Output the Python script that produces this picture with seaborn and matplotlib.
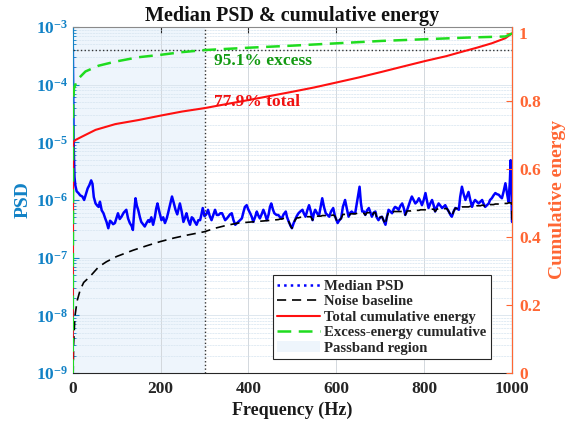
import numpy as np
import matplotlib
matplotlib.use("Agg")
import matplotlib.pyplot as plt
import seaborn as sns
from matplotlib.lines import Line2D
from matplotlib.patches import Patch
from matplotlib.ticker import LogLocator, FixedLocator, FuncFormatter, NullFormatter

# ---------------- data ----------------
freq_psd = [0, 2, 4, 6, 9, 13, 17, 22, 26, 30, 34, 38, 42, 45, 48, 52, 56, 59, 62, 66,
            70, 74, 77, 81, 85, 88, 92, 96, 100, 103, 107, 111, 116, 122, 126, 130, 134, 137, 140, 143,
            146, 149, 153, 156, 160, 164, 168, 172, 175, 179, 183, 187, 190, 193, 197, 202, 206, 210, 214, 217,
            221, 226, 230, 234, 238, 244, 248, 252, 256, 259, 263, 267, 271, 274, 278, 282, 286, 290, 293, 296,
            300, 304, 308, 312, 316, 320, 324, 328, 332, 336, 340, 344, 347, 351, 354, 358, 362, 366, 370, 374,
            377, 381, 385, 389, 392, 396, 400, 404, 408, 411, 415, 419, 422, 426, 430, 434, 438, 442, 446, 449,
            452, 456, 459, 464, 468, 472, 476, 480, 485, 488, 492, 496, 499, 503, 506, 510, 514, 518, 523, 526,
            530, 534, 538, 542, 546, 549, 552, 557, 561, 565, 568, 572, 576, 580, 584, 588, 593, 597, 603, 607,
            611, 615, 620, 624, 628, 632, 635, 639, 643, 648, 653, 656, 659, 663, 666, 670, 674, 677, 681, 685,
            689, 692, 696, 700, 704, 708, 712, 715, 719, 723, 727, 731, 734, 738, 742, 746, 750, 754, 757, 761,
            765, 769, 772, 776, 780, 784, 788, 792, 795, 799, 803, 806, 810, 814, 818, 822, 825, 829, 833, 837,
            841, 844, 848, 852, 856, 860, 863, 867, 871, 875, 879, 882, 886, 890, 894, 898, 901, 905, 909, 912,
            916, 920, 924, 928, 932, 935, 939, 943, 947, 950, 954, 958, 962, 966, 970, 973, 977, 981, 985, 989,
            992, 995, 997, 999, 1000]
log_psd = [-3.20, -5.00, -5.60, -5.75, -5.85, -5.88, -5.92, -5.94, -6.00, -5.90, -5.80, -5.74, -5.66, -5.72, -5.95, -6.06, -6.10, -6.12, -6.03, -6.18,
           -6.23, -6.32, -6.38, -6.49, -6.36, -6.38, -6.42, -6.40, -6.30, -6.23, -6.33, -6.29, -6.22, -6.17, -6.32, -6.40, -6.45, -6.52, -6.20, -5.97,
           -6.10, -6.17, -6.30, -6.38, -6.42, -6.46, -6.40, -6.35, -6.38, -6.30, -6.43, -6.30, -6.15, -6.06, -6.20, -6.35, -6.30, -6.40, -6.32, -6.23,
           -6.10, -5.94, -6.05, -6.17, -6.25, -6.06, -6.20, -6.38, -6.30, -6.23, -6.35, -6.43, -6.30, -6.32, -6.38, -6.43, -6.35, -6.35, -6.25, -6.14,
           -6.28, -6.25, -6.17, -6.28, -6.35, -6.26, -6.17, -6.26, -6.26, -6.23, -6.23, -6.30, -6.35, -6.32, -6.29, -6.25, -6.23, -6.35, -6.43, -6.40,
           -6.38, -6.35, -6.32, -6.20, -6.12, -6.09, -6.17, -6.23, -6.30, -6.38, -6.30, -6.20, -6.26, -6.32, -6.25, -6.17, -6.25, -6.35, -6.25, -6.12,
           -6.06, -6.17, -6.23, -6.26, -6.26, -6.30, -6.32, -6.25, -6.20, -6.30, -6.38, -6.45, -6.49, -6.40, -6.35, -6.28, -6.23, -6.20, -6.17, -6.23,
           -6.29, -6.18, -6.09, -6.20, -6.35, -6.23, -6.17, -6.24, -6.26, -6.10, -5.97, -6.12, -6.23, -6.26, -6.29, -6.20, -6.14, -6.28, -6.40, -6.35,
           -6.32, -6.12, -6.00, -6.15, -6.29, -6.22, -6.20, -6.23, -6.23, -6.00, -5.77, -6.05, -6.20, -6.20, -6.26, -6.18, -6.14, -6.20, -6.29, -6.22,
           -6.20, -6.30, -6.35, -6.30, -6.29, -6.36, -6.43, -6.30, -6.17, -6.20, -6.23, -6.15, -6.12, -6.14, -6.17, -6.10, -6.06, -6.15, -6.26, -6.18,
           -6.09, -6.00, -5.94, -6.00, -6.06, -6.03, -5.97, -6.03, -6.09, -6.00, -5.88, -6.00, -6.14, -6.06, -6.00, -6.10, -6.20, -6.12, -6.06, -6.10,
           -6.14, -6.12, -6.09, -6.15, -6.20, -6.26, -6.29, -6.20, -6.14, -6.15, -6.17, -5.95, -5.77, -5.90, -6.00, -5.92, -5.86, -6.00, -6.12, -6.05,
           -6.00, -6.03, -6.06, -6.03, -6.00, -6.06, -6.12, -6.09, -6.06, -6.00, -5.97, -5.92, -5.88, -5.90, -5.91, -5.94, -5.97, -5.85, -5.71, -5.90,
           -6.03, -5.70, -5.31, -5.90, -6.38]

freq_noise = [0.5, 2, 5, 10, 17, 25, 39, 59, 77, 100, 138, 170, 200, 230, 260, 300, 324, 350, 377, 410,
              440, 468,
              472, 476, 480, 485, 488, 492, 496, 499, 503, 506, 510, 514, 518, 523, 526,
              530, 534, 538, 542, 546, 549, 552, 557, 561, 565, 568, 572, 576, 580, 584, 588, 593, 597, 603, 607,
              611, 615, 620, 624, 628, 632, 635, 639, 643, 648, 653, 656, 659, 663, 666, 670, 674, 677, 681, 685,
              689, 692, 696, 700, 704, 708, 712, 715, 719, 723, 727, 731, 734, 738, 742, 746, 750, 754, 757, 761,
              765, 769, 772, 776, 780, 784, 788, 792, 795, 799, 803, 806, 810, 814, 818, 822, 825, 829, 833, 837,
              841, 844, 848, 852, 856, 860, 863, 867, 871, 875, 879, 882, 886, 890, 894, 898, 901, 905, 909, 912,
              916, 920, 924, 928, 932, 935, 939, 943, 947, 950, 954, 958, 962, 966, 970, 973, 977, 981, 985, 989,
              992, 995, 997, 999, 1000]
log_noise = [-9.3, -8.5, -8.02, -7.75, -7.56, -7.43, -7.33, -7.16, -7.07, -6.98, -6.87, -6.79, -6.72, -6.66, -6.61, -6.55, -6.49, -6.44, -6.40, -6.38,
             -6.36, -6.34,
             -6.33, -6.33, -6.32, -6.32, -6.32, -6.38, -6.45, -6.49, -6.40, -6.35, -6.31, -6.31, -6.30, -6.30, -6.30,
             -6.30, -6.29, -6.29, -6.29, -6.35, -6.28, -6.28, -6.28, -6.28, -6.28, -6.27, -6.27, -6.27, -6.27, -6.29, -6.27, -6.26, -6.28, -6.40, -6.35,
             -6.32, -6.25, -6.25, -6.25, -6.29, -6.24, -6.24, -6.24, -6.24, -6.23, -6.23, -6.23, -6.23, -6.23, -6.26, -6.22, -6.22, -6.22, -6.29, -6.22,
             -6.22, -6.30, -6.35, -6.30, -6.29, -6.36, -6.43, -6.30, -6.21, -6.21, -6.23, -6.20, -6.20, -6.20, -6.20, -6.20, -6.20, -6.19, -6.26, -6.19,
             -6.19, -6.19, -6.18, -6.18, -6.18, -6.18, -6.18, -6.17, -6.17, -6.17, -6.17, -6.17, -6.17, -6.16, -6.16, -6.16, -6.20, -6.16, -6.15, -6.15,
             -6.15, -6.15, -6.15, -6.15, -6.20, -6.26, -6.29, -6.20, -6.14, -6.15, -6.17, -6.13, -6.12, -6.12, -6.12, -6.12, -6.12, -6.11, -6.12, -6.11,
             -6.11, -6.10, -6.10, -6.10, -6.09, -6.09, -6.12, -6.09, -6.09, -6.08, -6.08, -6.08, -6.07, -6.07, -6.07, -6.07, -6.06, -6.06, -6.06, -6.06,
             -6.05, -6.05, -6.05, -6.05, -6.38]

freq_total = [0, 1, 6, 21, 52, 97, 150, 200, 249, 300, 350, 401, 450, 499, 550, 602, 650, 704, 750, 803,
              850, 886, 920, 954, 985, 1000]
cum_total = [0.0, 0.680, 0.686, 0.696, 0.716, 0.733, 0.745, 0.758, 0.770, 0.780, 0.792, 0.804, 0.816, 0.828, 0.841, 0.856, 0.870, 0.887, 0.902, 0.919,
             0.933, 0.946, 0.958, 0.971, 0.986, 1.0]

freq_excess = [0, 1, 3, 10, 29, 59, 97, 150, 200, 249, 300, 401, 499, 602, 704, 803, 902, 985, 1000]
cum_excess = [0.0, 0.800, 0.839, 0.863, 0.888, 0.905, 0.917, 0.930, 0.937, 0.945, 0.951, 0.958, 0.964, 0.971, 0.978, 0.983, 0.988, 0.991, 1.0]

passband = [0, 300]
excess_at_edge = 0.951
total_at_edge = 0.779
title = "Median PSD & cumulative energy"
legend_labels = ["Median PSD", "Noise baseline", "Total cumulative energy",
                 "Excess-energy cumulative", "Passband region"]

# ---------------- style ----------------
sns.set_style("white")
plt.rcParams["font.family"] = ["Liberation Serif", "DejaVu Serif"]
plt.rcParams["font.weight"] = "bold"
plt.rcParams["axes.labelweight"] = "bold"
plt.rcParams["axes.titleweight"] = "bold"
plt.rcParams["mathtext.fontset"] = "custom"
plt.rcParams["mathtext.rm"] = "Liberation Serif:bold"
plt.rcParams["mathtext.bf"] = "Liberation Serif:bold"
plt.rcParams["axes.unicode_minus"] = False

LEFT_C = "#1282c6"
RIGHT_C = "#ff6633"
SHADE_C = "#eef5fc"
BLACK_DASH = (0, (5.5, 3.5))
GREEN_DASH = (0, (5.5, 3.0))

fig = plt.figure(figsize=(5.65, 4.25), dpi=100)
ax = fig.add_axes([0.1287, 0.1224, 0.9062 - 0.1287, 0.9365 - 0.1224])
ax.set_yscale("log")

ax.axvspan(passband[0], passband[1], color=SHADE_C, zorder=0.1, lw=0)

psd = 10.0 ** np.array(log_psd)
noise = 10.0 ** np.array(log_noise)

sns.lineplot(x=freq_noise, y=noise, ax=ax, color="black", lw=1.2,
             linestyle=BLACK_DASH, estimator=None, sort=False, zorder=3)
sns.lineplot(x=freq_psd, y=psd, ax=ax, color="#0000ff", lw=1.8,
             estimator=None, sort=False, zorder=2)

ax.set_xlim(0, 1000)
ax.set_ylim(1e-9, 1e-3)
ax.set_xticks([0, 200, 400, 600, 800, 1000])
ax.yaxis.set_major_locator(LogLocator(base=10, numticks=10))
ax.yaxis.set_minor_locator(LogLocator(base=10, subs=np.arange(2, 10), numticks=100))
ax.yaxis.set_minor_formatter(NullFormatter())

ax.set_axisbelow(True)
ax.grid(which="major", axis="x", color="#d3d8dd", lw=0.7)
ax.grid(which="major", axis="y", color="#d8e3ec", lw=0.6)
ax.grid(which="minor", axis="y", color="#d6e4f0", lw=0.5, ls=(0, (3, 1)))

ax.axvline(passband[1], color="#333333", lw=1.0, ls=":", zorder=4)

ax.tick_params(axis="x", which="both", direction="in", top=True, length=4,
               labelsize=12.5, colors="#262626", pad=6)
ax.tick_params(axis="y", which="major", direction="in", length=4, labelsize=12.5,
               colors=LEFT_C, pad=3)
ax.tick_params(axis="y", which="minor", direction="in", length=2, colors=LEFT_C)
ax.set_xlabel("Frequency (Hz)", fontsize=13, color="#1a1a1a", labelpad=3)
ax.set_ylabel("PSD", fontsize=14, color=LEFT_C, labelpad=3)
ax.set_title(title, fontsize=14.5, color="#111111", pad=4)

ax.spines["top"].set_color("#8a8a8a")
ax.spines["bottom"].set_color("#262626")
ax.spines["left"].set_color(LEFT_C)
for s in ax.spines.values():
    s.set_linewidth(0.8)

# ---------------- right axis ----------------
ax2 = ax.twinx()
sns.lineplot(x=freq_total, y=cum_total, ax=ax2, color="#ff1010", lw=1.5,
             estimator=None, sort=False, zorder=3)
sns.lineplot(x=freq_excess, y=cum_excess, ax=ax2, color="#1fdc1f", lw=1.8,
             linestyle=GREEN_DASH, estimator=None, sort=False, zorder=3)
ax2.axhline(excess_at_edge, color="#333333", lw=1.0, ls=":", zorder=2)
ax2.set_ylim(0, 1.019)
ax2.set_xlim(0, 1000)
ax2.yaxis.set_major_locator(FixedLocator([0, 0.2, 0.4, 0.6, 0.8, 1.0]))
ax2.yaxis.set_major_formatter(FuncFormatter(lambda v, p: "%g" % round(v, 2)))
ax2.tick_params(axis="y", direction="in", length=4, labelsize=12.5, colors=RIGHT_C, pad=5)
ax2.set_ylabel("Cumulative energy", fontsize=14, color=RIGHT_C, labelpad=6)
ax2.spines["right"].set_color(RIGHT_C)
ax2.spines["left"].set_visible(False)
ax2.spines["top"].set_visible(False)
ax2.spines["bottom"].set_visible(False)
ax2.grid(False)

ax2.text(321, 0.920, "%.1f%% excess" % (excess_at_edge * 100), color="#139a13",
         fontsize=12.5, va="center", ha="left")
ax2.text(321, 0.797, "%.1f%% total" % (total_at_edge * 100), color="#f01010",
         fontsize=12.5, va="center", ha="left")

handles = [
    Line2D([], [], color="#0000ff", lw=1.8, ls=":"),
    Line2D([], [], color="black", lw=1.2, ls=BLACK_DASH),
    Line2D([], [], color="#ff1010", lw=1.5),
    Line2D([], [], color="#1fdc1f", lw=1.8, ls=GREEN_DASH),
    Patch(facecolor=SHADE_C, edgecolor="none"),
]
leg = ax2.legend(handles, legend_labels, loc="lower right",
                 bbox_to_anchor=(0.952, 0.040), borderaxespad=0, fontsize=10.6,
                 frameon=True, fancybox=False, edgecolor="#262626", framealpha=1,
                 handlelength=2.9, handletextpad=0.3, labelspacing=0.15,
                 borderpad=0.3)
leg.get_frame().set_linewidth(0.8)

fig.savefig("out.png", dpi=100)
